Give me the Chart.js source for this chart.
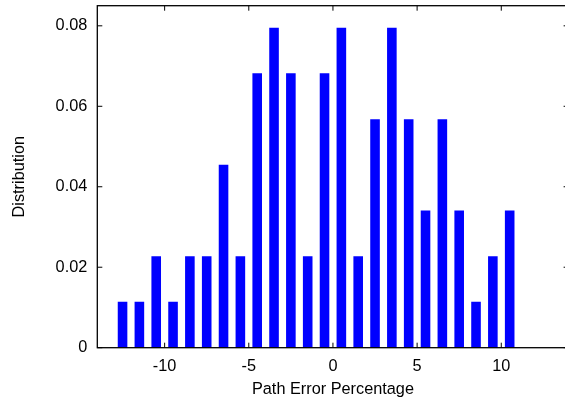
<!DOCTYPE html>
<html>
<head>
<meta charset="utf-8">
<script src="https://cdn.jsdelivr.net/npm/chart.js@4/dist/chart.umd.min.js"></script>
<style>
  html, body { margin: 0; padding: 0; overflow: hidden; background: #fff; }
  #wrap { width: 580px; height: 400px; }
</style>
</head>
<body>
<div id="wrap"><canvas id="hist" width="580" height="400"></canvas></div>
<script>
// histogram bins (centre of each 1% bin) and their share of all paths
const binCenters = [-12.5, -11.5, -10.5, -9.5, -8.5, -7.5, -6.5, -5.5, -4.5, -3.5, -2.5, -1.5,
                    -0.5, 0.5, 1.5, 2.5, 3.5, 4.5, 5.5, 6.5, 7.5, 8.5, 9.5, 10.5];
const distribution = [0.0114, 0.0114, 0.0227, 0.0114, 0.0227, 0.0227, 0.0455, 0.0227, 0.0682, 0.0795, 0.0682, 0.0227,
                      0.0682, 0.0795, 0.0227, 0.0568, 0.0795, 0.0568, 0.0341, 0.0568, 0.0341, 0.0114, 0.0227, 0.0341];

const xTicks = [-10, -5, 0, 5, 10];
const yTicks = [0, 0.02, 0.04, 0.06, 0.08];
const xRange = [-14, 14];
const yRange = [0, 0.085];

Chart.defaults.font.family = "'Liberation Sans', Arial, sans-serif";
Chart.defaults.font.size = 16.3;
Chart.defaults.color = '#000';

// border box + inward ticks on all four sides (gnuplot look)
const frame = {
  id: 'frame',
  afterDatasetsDraw(chart) {
    const { ctx, chartArea: a, scales: { x, y } } = chart;
    const len = 5;
    ctx.save();
    ctx.strokeStyle = '#000';
    ctx.lineWidth = 1.3;
    ctx.strokeRect(a.left, a.top, a.right - a.left, a.bottom - a.top);
    ctx.lineWidth = 1;
    ctx.beginPath();
    x.ticks.forEach(t => {
      const px = x.getPixelForValue(t.value);
      ctx.moveTo(px, a.bottom); ctx.lineTo(px, a.bottom - len);
      ctx.moveTo(px, a.top); ctx.lineTo(px, a.top + len);
    });
    y.ticks.forEach(t => {
      const py = y.getPixelForValue(t.value);
      ctx.moveTo(a.left, py); ctx.lineTo(a.left + len, py);
      ctx.moveTo(a.right, py); ctx.lineTo(a.right - len, py);
    });
    ctx.stroke();
    ctx.restore();
  }
};

new Chart(document.getElementById('hist').getContext('2d'), {
  type: 'bar',
  data: {
    datasets: [{
      data: binCenters.map((c, i) => ({ x: c, y: distribution[i] })),
      backgroundColor: '#0000ff',
      borderWidth: 0,
      categoryPercentage: 1,
      barPercentage: 0.57
    }]
  },
  options: {
    responsive: false,
    devicePixelRatio: 1,
    animation: false,
    layout: { padding: { left: 0, top: 5.7, right: 11.4, bottom: 0 } },
    plugins: { legend: { display: false }, tooltip: { enabled: false } },
    scales: {
      x: {
        type: 'linear',
        offset: false,
        min: xRange[0], max: xRange[1],
        grid: { display: false, drawTicks: false },
        border: { display: false },
        afterBuildTicks: s => { s.ticks = xTicks.map(v => ({ value: v })); },
        afterFit: s => { s.height = 52.3; s.paddingLeft = 0; s.paddingRight = 0; },
        ticks: { padding: 9, maxRotation: 0, callback: v => String(v) },
        title: { display: true, text: 'Path Error Percentage', padding: { top: 0, bottom: 1 } }
      },
      y: {
        min: yRange[0], max: yRange[1],
        grid: { display: false, drawTicks: false },
        border: { display: false },
        afterBuildTicks: s => { s.ticks = yTicks.map(v => ({ value: v })); },
        afterFit: s => { s.width = 97.3; s.paddingTop = 0; s.paddingBottom = 0; },
        ticks: { padding: 10, callback: v => v === 0 ? '0' : v.toFixed(2) },
        title: { display: true, text: 'Distribution', padding: { top: 10, bottom: 0 } }
      }
    }
  },
  plugins: [frame]
});
</script>
</body>
</html>
